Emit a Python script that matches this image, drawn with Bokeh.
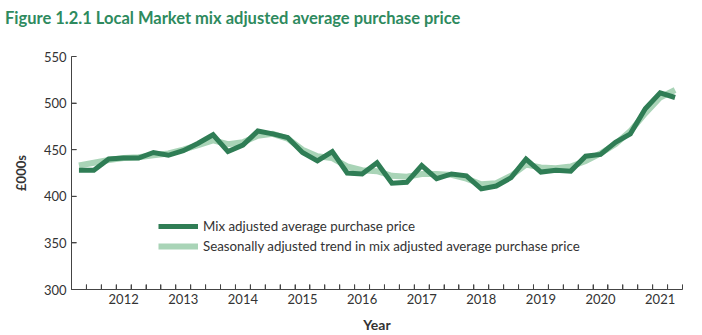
from bokeh.plotting import figure
from bokeh.models import FixedTicker, Legend, LegendItem, ColumnDataSource, Range1d, Div, Span
from bokeh.layouts import column
from bokeh.embed import file_html
from bokeh.resources import INLINE

# Quarterly data, 2011 Q2 .. 2021 Q2
quarters = [f"{y} Q{q}" for y in range(2011, 2022) for q in range(1, 5)][1:42]
mix_adjusted = [428, 428, 440, 441, 441, 447, 444, 449, 457, 466,
                448, 455, 470, 467, 463, 447, 438, 448, 425, 424,
                436, 414, 415, 433, 419, 424, 422, 408, 411, 420,
                440, 426, 428, 427, 443, 445, 458, 467, 494, 511, 506]
trend = [433, 436, 439, 441, 442, 444, 446, 450, 455, 460,
         456, 458, 465, 467, 462, 450, 443, 441, 432, 428,
         427, 422, 421, 424, 424, 423, 419, 413, 414, 422,
         434, 431, 430, 432, 438, 446, 456, 470, 489, 506, 514]
year_labels = [str(y) for y in range(2012, 2022)]
y_ticks = [300, 350, 400, 450, 500, 550]
title_text = "Figure 1.2.1 Local Market mix adjusted average purchase price"

FONT = "Lato"
DARK = "#2f7d55"
LIGHT = "#a9d4b7"
TITLE_C = "#2e8a5e"
TXT = "#333333"
AXC = "#444444"

n = len(quarters)
idx = list(range(n))
src = ColumnDataSource(dict(x=idx, q=quarters, mix=mix_adjusted, trend=trend))

X0, X1 = -0.5, n - 0.5
Y0, Y1 = y_ticks[0], y_ticks[-1]
FRAME_W, FRAME_H = 611, 236
TICK_PX = 5

title_div = Div(text=title_text, width=702, height=28, margin=0,
                styles={"font-family": FONT, "font-size": "16.5px", "font-weight": "bold",
                        "color": TITLE_C, "padding-left": "5px", "padding-top": "8px",
                        "line-height": "20px", "white-space": "nowrap"})

p = figure(width=702, height=307, output_backend="svg", toolbar_location=None,
           x_range=Range1d(X0, X1), y_range=Range1d(Y0, Y1),
           min_border_left=71, min_border_right=20, min_border_top=28, min_border_bottom=44,
           margin=0)
p.outline_line_color = None
p.grid.visible = False

r_trend = p.line("x", "trend", source=src, line_color=LIGHT, line_width=6, line_join="miter")
r_mix = p.line("x", "mix", source=src, line_color=DARK, line_width=5, line_join="miter")

# x axis: ticks between categories, labels on each year's first quarter
label_pos = [quarters.index(f"{y} Q1") for y in range(2012, 2022)]
minor_pos = [i + 0.5 for i in range(-1, n)]
xa = p.xaxis[0]
xa.ticker = FixedTicker(ticks=label_pos, minor_ticks=minor_pos)
xa.major_label_overrides = {pos: lab for pos, lab in zip(label_pos, year_labels)}
xa.major_tick_in = 0
xa.major_tick_out = 0
xa.minor_tick_in = TICK_PX
xa.minor_tick_out = 0
xa.minor_tick_line_color = AXC
xa.axis_line_color = AXC
xa.major_label_text_font = FONT
xa.major_label_text_font_size = "13px"
xa.major_label_text_color = TXT
xa.major_label_standoff = 4
xa.axis_label = "Year"
xa.axis_label_text_font = FONT
xa.axis_label_text_font_size = "14px"
xa.axis_label_text_font_style = "bold"
xa.axis_label_text_color = TXT
xa.axis_label_standoff = 9

ya = p.yaxis[0]
ya.ticker = FixedTicker(ticks=y_ticks)
ya.major_tick_in = TICK_PX
ya.major_tick_out = 0
ya.minor_tick_in = 0
ya.minor_tick_out = 0
ya.major_tick_line_color = AXC
ya.axis_line_color = AXC
ya.major_label_text_font = FONT
ya.major_label_text_font_size = "13px"
ya.major_label_text_color = TXT
ya.major_label_standoff = 5
ya.axis_label = "£000s"
ya.axis_label_text_font = FONT
ya.axis_label_text_font_size = "13px"
ya.axis_label_text_font_style = "bold"
ya.axis_label_text_color = TXT
ya.axis_label_standoff = 12

# explicit axis rules and inward ticks (drawn from the tick lists)
p.add_layout(Span(location=X0, dimension="height", line_color=AXC, line_width=1))
p.add_layout(Span(location=Y0, dimension="width", line_color=AXC, line_width=1))
dy = TICK_PX * (Y1 - Y0) / FRAME_H
dx = TICK_PX * (X1 - X0) / FRAME_W
p.segment(x0=minor_pos, y0=[Y0] * len(minor_pos), x1=minor_pos, y1=[Y0 + dy] * len(minor_pos),
          line_color=AXC, line_width=1)
p.segment(x0=[X0] * len(y_ticks), y0=y_ticks, x1=[X0 + dx] * len(y_ticks), y1=y_ticks,
          line_color=AXC, line_width=1)

legend = Legend(items=[
    LegendItem(label="Mix adjusted average purchase price", renderers=[r_mix]),
    LegendItem(label="Seasonally adjusted trend in mix adjusted average purchase price", renderers=[r_trend]),
], location=(87, 33), orientation="vertical")
legend.border_line_color = None
legend.background_fill_alpha = 0
legend.padding = 0
legend.margin = 0
legend.spacing = 0
legend.glyph_width = 40
legend.glyph_height = 20
legend.label_height = 20
legend.label_standoff = 5
legend.label_text_font = FONT
legend.label_text_font_size = "13.3px"
legend.label_text_color = TXT
p.add_layout(legend, "center")

layout = column(title_div, p, spacing=0, margin=0)
open("out.html", "w").write(file_html(layout, INLINE))
